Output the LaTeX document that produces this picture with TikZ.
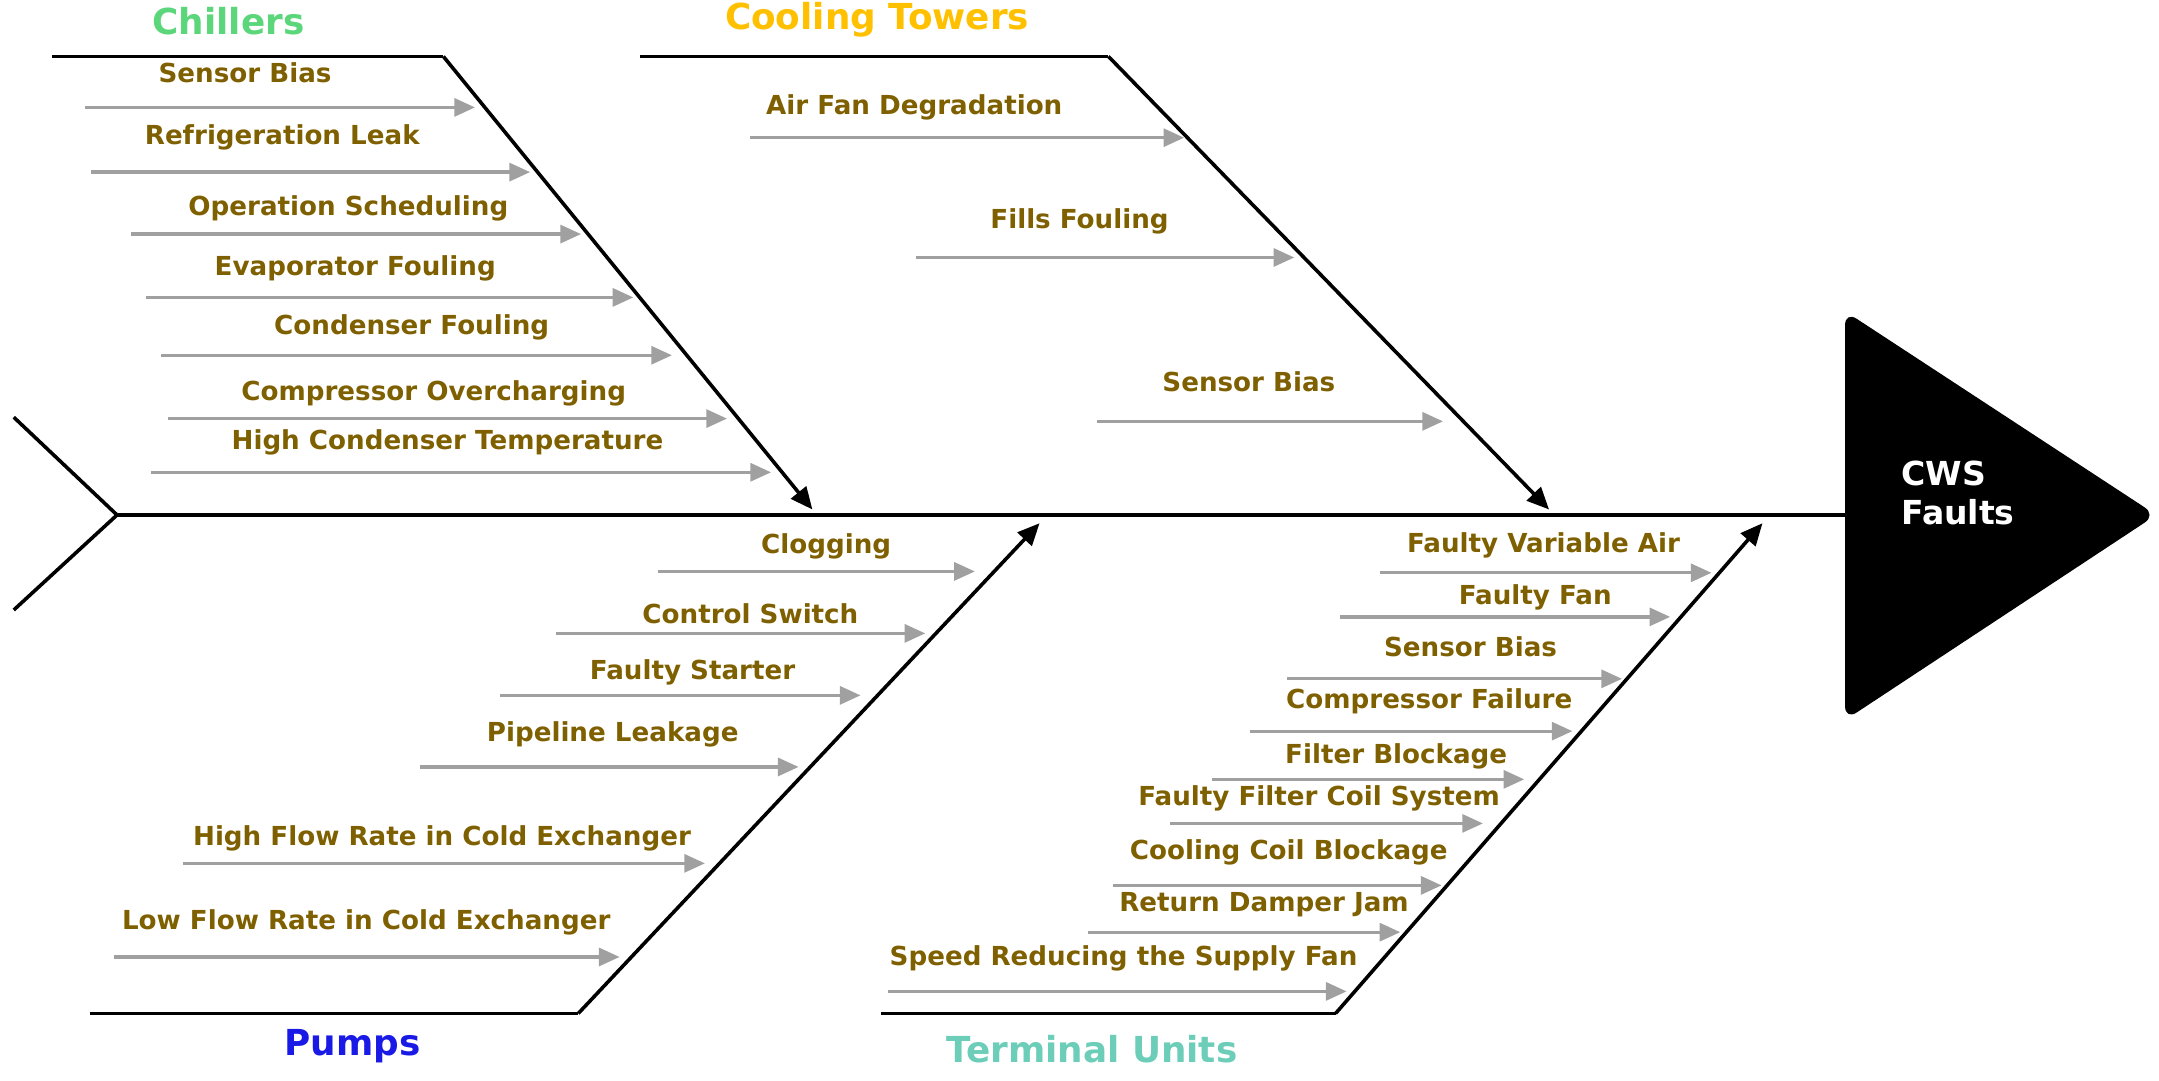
\documentclass[tikz,border=0pt]{standalone}
\usepackage{fontspec}
\setmainfont{DejaVu Sans}
\usetikzlibrary{arrows.meta}
\definecolor{olive}{HTML}{7F6000}
\definecolor{garrow}{HTML}{A0A0A0}
\definecolor{cgreen}{HTML}{5CD67A}
\definecolor{cyellow}{HTML}{FFC000}
\definecolor{cblue}{HTML}{1A1AE6}
\definecolor{cteal}{HTML}{6CCDB8}
\tikzset{
  bone/.style={line width=2.6pt,black},
  mainarr/.style={bone,-{Triangle[length=16pt,width=14pt]}},
  sub/.style={line width=2.4pt,garrow,-{Triangle[length=15pt,width=13pt]}},
  lab/.style={text=olive,font=\fontsize{19}{22}\selectfont\bfseries,inner sep=0pt},
  cat/.style={font=\fontsize{26}{29}\selectfont\bfseries,inner sep=0pt}
}
\newcommand{\cause}[6]{% name, x1, x2, y, label x, label y
  \coordinate (#1s) at (#2,#4); \coordinate (#1e) at (#3,#4);
  \draw[sub] (#1s) -- (#1e);
  \node[lab] (#1l) at (#5,#6) {#1};}
\begin{document}
\begin{tikzpicture}[x=1pt,y=-1pt]
\useasboundingbox (0,0) rectangle (1568,785);
% spine
\coordinate (tailA) at (10,303); \coordinate (tailB) at (85,374); \coordinate (tailC) at (10,443);
\coordinate (spineE) at (1345,374);
\draw[bone] (tailA) -- (tailB) -- (tailC);
\draw[bone] (tailB) -- (spineE);
% head
\fill[black,rounded corners=10pt] (1340,226) -- (1566,374) -- (1340,523) -- cycle;
\node[text=white,font=\fontsize{24}{29}\selectfont\bfseries,align=left,inner sep=0pt] (head) at (1422,358) {CWS\\Faults};
% bones
\coordinate (c1) at (38,41); \coordinate (c2) at (322,41); \coordinate (c3) at (590,370);
\draw[bone] (c1) -- (c2); \draw[mainarr] (c2) -- (c3);
\node[cat,text=cgreen] (chl) at (166,15) {Chillers};
\coordinate (t1) at (465,41); \coordinate (t2) at (805,41); \coordinate (t3) at (1125,370);
\draw[bone] (t1) -- (t2); \draw[mainarr] (t2) -- (t3);
\node[cat,text=cyellow] (ctl) at (637,14) {Cooling Towers};
\coordinate (p1) at (65,736); \coordinate (p2) at (420,736); \coordinate (p3) at (755,380);
\draw[bone] (p1) -- (p2); \draw[mainarr] (p2) -- (p3);
\node[cat,text=cblue] (pml) at (256,760) {Pumps};
\coordinate (u1) at (640,736); \coordinate (u2) at (970,736); \coordinate (u3) at (1280,380);
\draw[bone] (u1) -- (u2); \draw[mainarr] (u2) -- (u3);
\node[cat,text=cteal] (tul) at (793,762) {Terminal Units};
% chillers
\cause{Sensor Bias}{62}{345}{78}{178}{53}
\cause{Refrigeration Leak}{66}{385}{125}{205}{100}
\cause{Operation Scheduling}{95}{422}{170}{253}{151}
\cause{Evaporator Fouling}{106}{460}{216}{258}{195}
\cause{Condenser Fouling}{117}{488}{258}{299}{238}
\cause{Compressor Overcharging}{122}{528}{304}{315}{286}
\cause{High Condenser Temperature}{110}{560}{343}{325}{321}
% cooling towers
\cause{Air Fan Degradation}{545}{860}{100}{664}{78}
\cause{Fills Fouling}{665}{940}{187}{784}{161}
\cause{Sensor Bias}{797}{1048}{306}{907}{277}
% pumps
\cause{Clogging}{478}{708}{415}{600}{397}
\cause{Control Switch}{404}{672}{460}{545}{446}
\cause{Faulty Starter}{363}{625}{505}{503}{488}
\cause{Pipeline Leakage}{305}{580}{557}{445}{533}
\cause{High Flow Rate in Cold Exchanger}{133}{512}{627}{321}{609}
\cause{Low Flow Rate in Cold Exchanger}{83}{450}{695}{266}{670}
% terminal units
\cause{Faulty Variable Air}{1002}{1243}{416}{1121}{396}
\cause{Faulty Fan}{973}{1213}{448}{1115}{434}
\cause{Sensor Bias}{935}{1178}{493}{1068}{470}
\cause{Compressor Failure}{908}{1142}{531}{1038}{509}
\cause{Filter Blockage}{880}{1107}{566}{1014}{549}
\cause{Faulty Filter Coil System}{850}{1077}{598}{958}{580}
\cause{Cooling Coil Blockage}{808}{1047}{643}{936}{619}
\cause{Return Damper Jam}{790}{1017}{677}{918}{657}
\cause{Speed Reducing the Supply Fan}{645}{978}{720}{816}{696}
\end{tikzpicture}
\end{document}
